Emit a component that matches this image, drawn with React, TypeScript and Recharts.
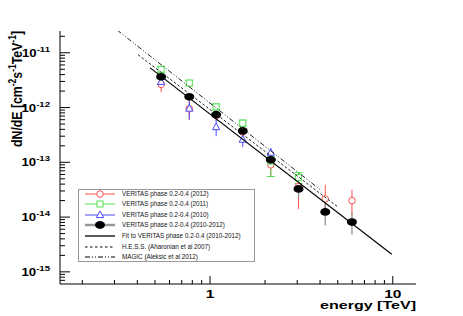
import { ComposedChart, Scatter, XAxis, YAxis, ErrorBar, Legend } from 'recharts';

// energy in TeV, flux dN/dE in cm^-2 s^-1 TeV^-1
const energy = [0.54, 0.77, 1.08, 1.51, 2.15, 3.05, 4.27, 5.98];

const flux2012 = [2.65e-12, 9.5e-13, 7.2e-13, 3.6e-13, 9.0e-14, 3.6e-14, 2.15e-14, 2.0e-14];
const lo2012 = [7.5e-13, 3.5e-13, 1.5e-13, 8e-14, 3.5e-14, 2.2e-14, 8e-15, 9e-15];
const hi2012 = [6e-13, 4e-13, 1.5e-13, 8e-14, 3e-14, 1.6e-14, 1.75e-14, 1.15e-14];

const energy2011 = [0.54, 0.77, 1.08, 1.51, 2.15, 3.05];
const flux2011 = [5.0e-12, 2.8e-12, 1.03e-12, 5.2e-13, 1.05e-13, 5.3e-14];
const lo2011 = [6e-13, 3e-13, 1.2e-13, 6e-14, 5e-14, 1.2e-14];
const hi2011 = [6e-13, 3.5e-13, 1.3e-13, 7e-14, 2.5e-14, 1.2e-14];

const energy2010 = [0.54, 0.77, 1.08, 1.51, 2.15];
const flux2010 = [2.95e-12, 9.6e-13, 4.4e-13, 2.6e-13, 1.5e-13];
const lo2010 = [5e-13, 3.6e-13, 1.4e-13, 7e-14, 3.5e-14];
const hi2010 = [6e-13, 3.3e-13, 2.5e-13, 1e-13, 3e-14];

const fluxAll = [3.64e-12, 1.57e-12, 7.4e-13, 3.75e-13, 1.11e-13, 3.27e-14, 1.24e-14, 8.1e-15];
const loAll = [4e-13, 1.5e-13, 8e-14, 4.5e-14, 1.6e-14, 1.0e-14, 5.4e-15, 3.3e-15];
const hiAll = [4e-13, 1.5e-13, 8e-14, 4.5e-14, 1.6e-14, 0.95e-14, 8.3e-15, 3.9e-15];

// power-law curves, start and end points
const fitE = [0.47, 9.87];
const fitF = [5.3e-12, 2.1e-15];
const hessE = [0.404, 5.0];
const hessF = [9.2e-12, 1.54e-14];
const magicE = [0.31, 3.99];
const magicF = [2.6e-11, 3.2e-14];

const xTicks = [0.2, 0.3, 0.4, 0.5, 0.6, 0.7, 0.8, 0.9, 1, 2, 3, 4, 5, 6, 7, 8, 9, 10];
const yTicks = [
  7e-16, 8e-16, 9e-16,
  1e-15, 2e-15, 3e-15, 4e-15, 5e-15, 6e-15, 7e-15, 8e-15, 9e-15,
  1e-14, 2e-14, 3e-14, 4e-14, 5e-14, 6e-14, 7e-14, 8e-14, 9e-14,
  1e-13, 2e-13, 3e-13, 4e-13, 5e-13, 6e-13, 7e-13, 8e-13, 9e-13,
  1e-12, 2e-12, 3e-12, 4e-12, 5e-12, 6e-12, 7e-12, 8e-12, 9e-12,
  1e-11, 2e-11,
];

const RED = '#ff5050';
const GREEN = '#52e052';
const BLUE = '#4848ff';
const FONT = '"Liberation Sans", Arial, Helvetica, sans-serif';

const legendRows = [
  { name: 'VERITAS phase 0.2-0.4 (2012)', kind: 'red' },
  { name: 'VERITAS phase 0.2-0.4 (2011)', kind: 'green' },
  { name: 'VERITAS phase 0.2-0.4 (2010)', kind: 'blue' },
  { name: 'VERITAS phase 0.2-0.4 (2010-2012)', kind: 'black' },
  { name: 'Fit to VERITAS phase 0.2-0.4 (2010-2012)', kind: 'fit' },
  { name: 'H.E.S.S. (Aharonian et al 2007)', kind: 'hess' },
  { name: 'MAGIC (Aleksic et al 2012)', kind: 'magic' },
];

function rows(e: number[], f: number[], lo?: number[], hi?: number[]) {
  return e.map((x, i) => ({ e: x, f: f[i], err: lo && hi ? [lo[i], hi[i]] : undefined }));
}

const isDecade = (v: number) => Math.abs(Math.log10(v) - Math.round(Math.log10(v))) < 1e-6;

function BottomTick({ x, y, payload }: any) {
  const major = isDecade(payload.value);
  return (
    <g>
      <line x1={x} x2={x} y1={y} y2={y - (major ? 8 : 4)} stroke="#000" />
      {major && (
        <text transform={`translate(${x},${y + 14}) scale(1.55,1)`} textAnchor="middle"
          fontFamily={FONT} fontWeight="bold" fontSize={10} fill="#000">
          {payload.value}
        </text>
      )}
    </g>
  );
}

function TopTick({ x, y, payload }: any) {
  const major = isDecade(payload.value);
  return <line x1={x} x2={x} y1={y} y2={y + (major ? 8 : 4)} stroke="#000" />;
}

function LeftTick({ x, y, payload }: any) {
  const major = isDecade(payload.value);
  const exp = Math.round(Math.log10(payload.value));
  return (
    <g>
      <line x1={x} x2={x + (major ? 10 : 5)} y1={y} y2={y} stroke="#000" />
      {major && (
        <text transform={`translate(${x - 10},${y + 4}) scale(1.2,1)`} textAnchor="end"
          fontFamily={FONT} fontWeight="bold" fontSize={11} fill="#000">
          10<tspan dy={-5} fontSize={8}>{exp}</tspan>
        </text>
      )}
    </g>
  );
}

function RightTick({ x, y, payload }: any) {
  const major = isDecade(payload.value);
  return <line x1={x} x2={x - (major ? 10 : 5)} y1={y} y2={y} stroke="#000" />;
}

const circleShape = ({ cx, cy }: any) => <circle cx={cx} cy={cy} r={3.3} fill="#fff" stroke={RED} strokeWidth={1} />;
const squareShape = ({ cx, cy }: any) => <rect x={cx - 3} y={cy - 3} width={6} height={6} fill="#fff" stroke={GREEN} strokeWidth={1} />;
const triangleShape = ({ cx, cy }: any) => (
  <polygon points={`${cx},${cy - 4} ${cx - 3.6},${cy + 2.6} ${cx + 3.6},${cy + 2.6}`} fill="#fff" stroke={BLUE} strokeWidth={1} />
);
const dotShape = ({ cx, cy }: any) => <ellipse cx={cx} cy={cy} rx={5} ry={3.9} fill="#000" />;
const noShape = () => <g />;

function LegendSample({ kind, y }: { kind: string; y: number }) {
  const x1 = 7, x2 = 37, cx = 22;
  if (kind === 'red') return (<g><line x1={x1} x2={x2} y1={y} y2={y} stroke={RED} />{circleShape({ cx, cy: y })}</g>);
  if (kind === 'green') return (<g><line x1={x1} x2={x2} y1={y} y2={y} stroke={GREEN} />{squareShape({ cx, cy: y })}</g>);
  if (kind === 'blue') return (<g><line x1={x1} x2={x2} y1={y} y2={y} stroke={BLUE} />{triangleShape({ cx, cy: y })}</g>);
  if (kind === 'black') return (<g><line x1={x1} x2={x2} y1={y} y2={y} stroke="#999" strokeWidth={2.5} />{dotShape({ cx, cy: y })}</g>);
  if (kind === 'fit') return <line x1={x1} x2={x2} y1={y} y2={y} stroke="#000" strokeWidth={1.3} />;
  if (kind === 'hess') return <line x1={x1} x2={x2} y1={y} y2={y} stroke="#000" strokeWidth={1.1} strokeDasharray="2.5 2.5" />;
  return <line x1={x1} x2={x2} y1={y} y2={y} stroke="#000" strokeWidth={1.1} strokeDasharray="5 2 1 2 1 2" />;
}

function LegendBox() {
  const rowY = [5, 15, 26, 36, 47, 58, 68];
  return (
    <svg width={178} height={74} style={{ display: 'block' }}>
      <rect x={0.5} y={0.5} width={176} height={72} fill="#fff" stroke="#999" />
      {legendRows.map((r, i) => (
        <g key={r.name}>
          <LegendSample kind={r.kind} y={rowY[i]} />
          <text x={44} y={rowY[i] + 2.2} fontFamily={FONT} fontSize={6.3} fill="#111">{r.name}</text>
        </g>
      ))}
    </svg>
  );
}

const xTitle = () => (
  <text transform="translate(416,309) scale(1.46,1)" textAnchor="end" fontFamily={FONT} fontWeight="bold" fontSize={11} fill="#000">
    energy [TeV]
  </text>
);

const yTitle = () => (
  <text transform="translate(22,31) scale(1.25,1) rotate(-90)" textAnchor="end" fontFamily={FONT} fontWeight="bold" fontSize={12.3} fill="#000">
    dN/dE [cm<tspan dy={-5} fontSize={8.5}>-2</tspan><tspan dy={5}>s</tspan><tspan dy={-5} fontSize={8.5}>-1</tspan><tspan dy={5}>TeV</tspan><tspan dy={-5} fontSize={8.5}>-1</tspan><tspan dy={5}>]</tspan>
  </text>
);

export default function App() {
  const xDomain = [0.151, 13.4];
  const yDomain = [6e-16, 2.5e-11];
  return (
    <div style={{ position: 'absolute', left: 0, top: 0, background: '#fff' }}>
      <ComposedChart width={463} height={316} margin={{ top: 31, right: 47, bottom: 0, left: 0 }}>
        <XAxis xAxisId="b" dataKey="e" type="number" scale="log" domain={xDomain} allowDataOverflow
          ticks={xTicks} interval={0} tick={BottomTick} tickLine={false} tickSize={0} tickMargin={0}
          height={32} axisLine={{ stroke: '#000' }} label={{ content: xTitle }} />
        <XAxis xAxisId="t" orientation="top" dataKey="e" type="number" scale="log" domain={xDomain} allowDataOverflow
          ticks={xTicks} interval={0} tick={TopTick} tickLine={false} tickSize={0} tickMargin={0}
          height={0} axisLine={{ stroke: '#000' }} />
        <YAxis yAxisId="l" dataKey="f" type="number" scale="log" domain={yDomain} allowDataOverflow
          ticks={yTicks} interval={0} tick={LeftTick} tickLine={false} tickSize={0} tickMargin={0}
          width={60} axisLine={{ stroke: '#000' }} label={{ content: yTitle }} />
        <YAxis yAxisId="r" orientation="right" dataKey="f" type="number" scale="log" domain={yDomain} allowDataOverflow
          ticks={yTicks} interval={0} tick={RightTick} tickLine={false} tickSize={0} tickMargin={0}
          width={0} axisLine={{ stroke: '#000' }} />

        <Scatter xAxisId="b" yAxisId="l" name="2012" data={rows(energy, flux2012, lo2012, hi2012)} dataKey="f"
          shape={circleShape} isAnimationActive={false}>
          <ErrorBar dataKey="err" direction="y" width={0} stroke={RED} strokeWidth={1} isAnimationActive={false} />
        </Scatter>
        <Scatter xAxisId="b" yAxisId="l" name="2011" data={rows(energy2011, flux2011, lo2011, hi2011)} dataKey="f"
          shape={squareShape} isAnimationActive={false}>
          <ErrorBar dataKey="err" direction="y" width={4} stroke={GREEN} strokeWidth={1} isAnimationActive={false} />
        </Scatter>
        <Scatter xAxisId="b" yAxisId="l" name="2010" data={rows(energy2010, flux2010, lo2010, hi2010)} dataKey="f"
          shape={triangleShape} isAnimationActive={false}>
          <ErrorBar dataKey="err" direction="y" width={0} stroke={BLUE} strokeWidth={1} isAnimationActive={false} />
        </Scatter>
        <Scatter xAxisId="b" yAxisId="l" name="2010-2012" data={rows(energy, fluxAll, loAll, hiAll)} dataKey="f"
          shape={dotShape} isAnimationActive={false}>
          <ErrorBar dataKey="err" direction="y" width={0} stroke="#888" strokeWidth={1.2} isAnimationActive={false} />
        </Scatter>

        <Scatter xAxisId="b" yAxisId="l" name="fit" data={rows(fitE, fitF)} dataKey="f" shape={noShape}
          line={{ stroke: '#000', strokeWidth: 1.2 }} isAnimationActive={false} />
        <Scatter xAxisId="b" yAxisId="l" name="hess" data={rows(hessE, hessF)} dataKey="f" shape={noShape}
          line={{ stroke: '#222', strokeWidth: 1, strokeDasharray: '2.5 2' }} isAnimationActive={false} />
        <Scatter xAxisId="b" yAxisId="l" name="magic" data={rows(magicE, magicF)} dataKey="f" shape={noShape}
          line={{ stroke: '#222', strokeWidth: 1, strokeDasharray: '5 2 1 2 1 2' }} isAnimationActive={false} />

        <Legend layout="horizontal" verticalAlign="middle" align="center" content={() => <LegendBox />}
          wrapperStyle={{ left: 78, top: 189, width: 178, height: 74 }} />
      </ComposedChart>
    </div>
  );
}
